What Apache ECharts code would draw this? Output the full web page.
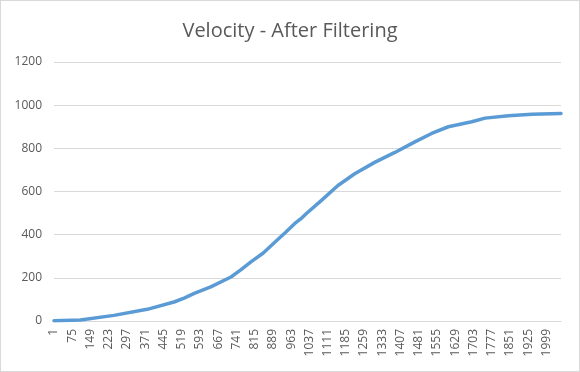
<!DOCTYPE html>
<html>
<head>
<meta charset="utf-8">
<script src="https://cdn.jsdelivr.net/npm/echarts@6/dist/echarts.min.js"></script>
<style>
html,body{margin:0;padding:0;background:#fff;}
#c{width:580px;height:372px;box-sizing:border-box;border:1px solid #d9d9d9;}
</style>
</head>
<body>
<div id="c"></div>
<script>
var title = "Velocity - After Filtering";
var categoryCount = 2058;
var categories = [];
for (var i = 1; i <= categoryCount; i++) categories.push(String(i));
var sampleCategories = [1, 108, 244, 379, 488, 529, 570, 637, 719, 760, 800, 850, 900, 940, 977, 1003, 1024, 1085, 1153, 1221, 1302, 1384, 1465, 1533, 1601, 1696, 1750, 1845, 1940, 2058];
var sampleValues =     [1, 5, 26, 54, 88, 106, 128, 158, 204, 238, 274, 315, 368, 410, 451, 474, 497, 558, 628, 682, 735, 781, 830, 869, 900, 923, 940, 951, 958, 961];
var yTicks = [0, 200, 400, 600, 800, 1000, 1200];

var seriesData = sampleCategories.map(function (c, k) { return [String(c), sampleValues[k]]; });

var chart = echarts.init(document.getElementById('c'));
var font = '"Open Sans", "Noto Sans", sans-serif';
chart.setOption({
  animation: false,
  title: {
    text: title, left: 'center', top: 15,
    textStyle: {fontFamily: font, fontSize: 20, fontWeight: 'normal', color: '#595959'}
  },
  grid: {left: 53, right: 18, top: 61, bottom: 50, containLabel: false},
  xAxis: {
    type: 'category', data: categories, boundaryGap: false,
    axisLine: {lineStyle: {color: '#d9d9d9'}},
    axisTick: {show: false},
    axisLabel: {interval: 73, rotate: 90, fontFamily: font, fontSize: 12, color: '#595959', margin: 8}
  },
  yAxis: {
    type: 'value', min: yTicks[0], max: yTicks[yTicks.length - 1], interval: 200,
    axisLine: {show: false}, axisTick: {show: false},
    splitLine: {lineStyle: {color: '#d9d9d9'}},
    axisLabel: {fontFamily: font, fontSize: 12, color: '#595959', margin: 12,
      formatter: function (v) { return String(v); }}
  },
  series: [{
    type: 'line', data: seriesData, showSymbol: false, symbol: 'none',
    lineStyle: {color: '#5B9BD5', width: 3.5, cap: 'round', join: 'round'},
    itemStyle: {color: '#5B9BD5'}
  }]
});
</script>
</body>
</html>
